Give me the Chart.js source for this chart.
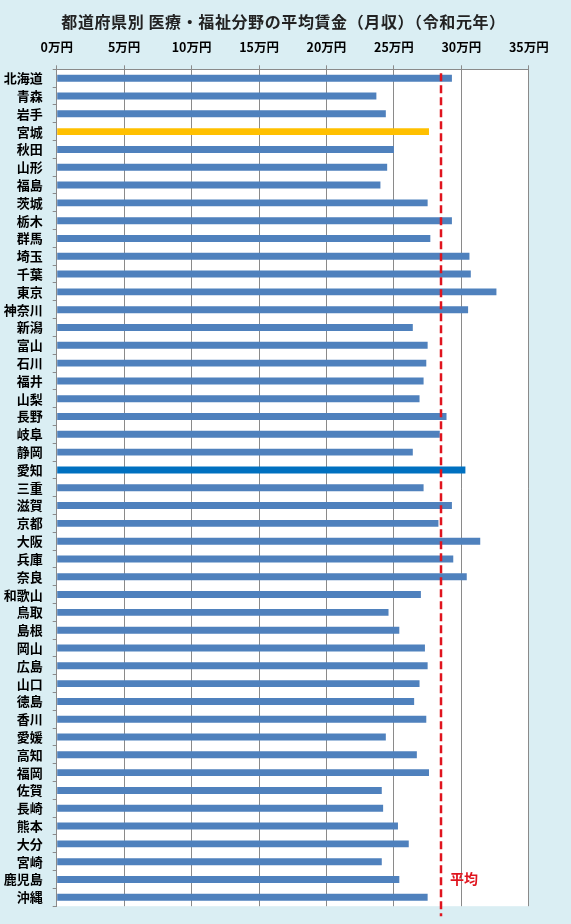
<!DOCTYPE html>
<html><head><meta charset="utf-8">
<script src="https://cdn.jsdelivr.net/npm/chart.js@4"></script>
<style>html,body{margin:0;padding:0;background:#DAEEF3;}canvas{display:block}</style>
</head><body>
<canvas id="c" width="571" height="924" style="width:571px;height:924px"></canvas>
<script>
const prefectures = ['北海道','青森','岩手','宮城','秋田','山形','福島','茨城','栃木','群馬','埼玉','千葉','東京','神奈川','新潟','富山','石川','福井','山梨','長野','岐阜','静岡','愛知','三重','滋賀','京都','大阪','兵庫','奈良','和歌山','鳥取','島根','岡山','広島','山口','徳島','香川','愛媛','高知','福岡','佐賀','長崎','熊本','大分','宮崎','鹿児島','沖縄'];
const wages = [29.3,23.7,24.4,27.6,25.0,24.5,24.0,27.5,29.3,27.7,30.6,30.7,32.6,30.5,26.4,27.5,27.4,27.2,26.9,28.9,28.4,26.4,30.3,27.2,29.3,28.3,31.4,29.4,30.4,27.0,24.6,25.4,27.3,27.5,26.9,26.5,27.4,24.4,26.7,27.6,24.1,24.2,25.3,26.1,24.1,25.4,27.5];
const axisMin = 0, axisMax = 35, axisStep = 5;
const tickUnit = '万円';
const averageWage = 28.5;
const averageLabel = '平均';
const titleText = '都道府県別 医療・福祉分野の平均賃金（月収）（令和元年）';
const baseColor = '#4F81BD';
const highlight = {'宮城':'#FFC000','愛知':'#0070C0'};
const FONT = "'Noto Sans CJK JP','Noto Sans',sans-serif";
Chart.defaults.font.family = FONT;

const bgPlugin = {
  id:'bg',
  beforeDraw(chart){
    const {ctx, chartArea:a} = chart;
    ctx.save();
    ctx.fillStyle = '#DAEEF3';
    ctx.fillRect(0,0,chart.width,chart.height);
    ctx.fillStyle = '#FFFFFF';
    ctx.fillRect(a.left,a.top,a.right-a.left,a.bottom-a.top);
    ctx.restore();
  },
  afterDraw(chart){
    const ctx = chart.ctx;
    ctx.save();
    ctx.fillStyle = '#222';
    ctx.font = 'bold 16px ' + FONT;
    try { ctx.letterSpacing = '0.6px'; } catch(e) {}
    ctx.textAlign = 'center';
    ctx.textBaseline = 'middle';
    ctx.fillText(titleText, chart.width/2 - 2, 22);
    ctx.restore();
  }
};
const avgPlugin = {
  id:'avg',
  afterDatasetsDraw(chart){
    const {ctx, chartArea:a, scales} = chart;
    const x = Math.round(scales.x.getPixelForValue(averageWage));
    ctx.save();
    ctx.strokeStyle = '#E0141E';
    ctx.lineWidth = 2.5;
    ctx.setLineDash([8,4]);
    ctx.beginPath();
    ctx.moveTo(x, a.top+4);
    ctx.lineTo(x, a.bottom+10);
    ctx.stroke();
    ctx.setLineDash([]);
    ctx.fillStyle = '#E0141E';
    ctx.font = 'bold 14px ' + FONT;
    ctx.textAlign = 'left';
    ctx.textBaseline = 'middle';
    ctx.fillText(averageLabel, x+9, scales.y.getPixelForValue(prefectures.length-2)-1);
    ctx.restore();
  }
};

new Chart(document.getElementById('c'), {
  type:'bar',
  data:{
    labels: prefectures,
    datasets:[{
      data: wages,
      backgroundColor: prefectures.map(p => highlight[p] || baseColor),
      borderWidth:0,
      barPercentage:0.39,
      categoryPercentage:1
    }]
  },
  options:{
    indexAxis:'y',
    responsive:false,
    animation:false,
    devicePixelRatio:1,
    layout:{padding:{left:0,right:42.2,top:0,bottom:17.3}},
    plugins:{
      legend:{display:false},
      tooltip:{enabled:false},
      title:{display:false}
    },
    scales:{
      x:{
        position:'top',
        min:axisMin,max:axisMax,
        afterBuildTicks(s){ s.ticks = []; for(let v=axisMin; v<=axisMax; v+=axisStep) s.ticks.push({value:v}); },
        afterFit(s){ s.height = 69.3; },
        ticks:{stepSize:axisStep,color:'#000',font:{size:12.5,weight:'bold'},padding:10.5,callback:v=>v+tickUnit,maxRotation:0,autoSkip:false},
        grid:{color:'#8A8A8A',lineWidth:1,tickLength:4},
        border:{display:true,color:'#8A8A8A',width:1}
      },
      y:{
        afterFit(s){ s.width = 56.7; },
        ticks:{color:'#000',font:{size:13,weight:'bold'},padding:10,autoSkip:false},
        grid:{display:true,drawOnChartArea:false,drawTicks:true,tickLength:4,color:'#8A8A8A',offset:true},
        border:{display:true,color:'#8A8A8A',width:1}
      }
    }
  },
  plugins:[bgPlugin,avgPlugin]
});
</script>
</body></html>
